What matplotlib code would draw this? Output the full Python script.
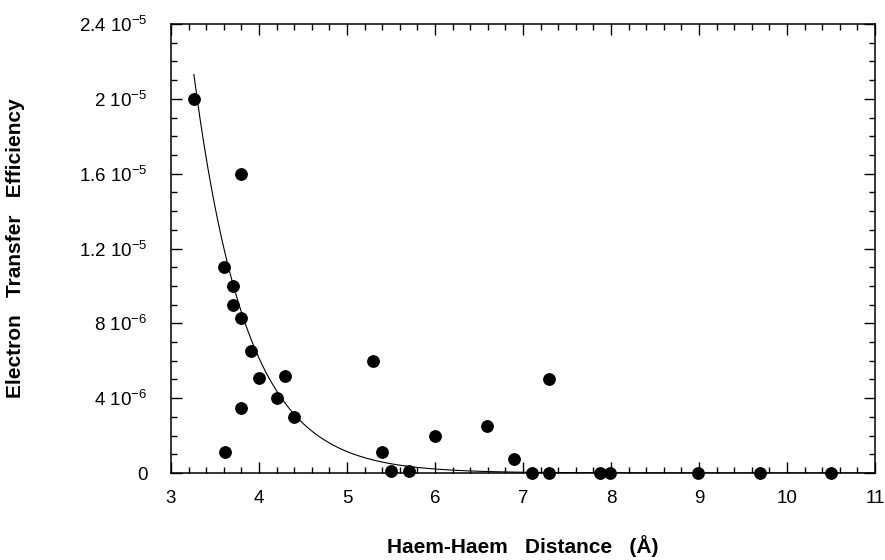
import numpy as np
import matplotlib
matplotlib.use("Agg")
import matplotlib.pyplot as plt
from matplotlib.ticker import MultipleLocator, FixedLocator
from matplotlib.transforms import blended_transform_factory

plt.rcParams['font.family'] = ['Liberation Sans', 'DejaVu Sans']
plt.rcParams['mathtext.default'] = 'regular'

# Data (haem-haem distance in Angstrom, electron transfer efficiency)
distance = [3.26, 3.80, 3.60, 3.71, 3.71, 3.80, 3.91, 4.00, 4.30, 4.20, 3.80, 4.40,
            3.61, 5.30, 5.40, 5.50, 5.70, 6.00, 6.59, 6.90, 7.30, 7.10, 7.30, 7.88,
            7.99, 8.99, 9.69, 10.50]
efficiency = [2.00e-5, 1.60e-5, 1.10e-5, 1.00e-5, 0.90e-5, 0.83e-5, 0.65e-5, 0.51e-5,
              0.52e-5, 0.40e-5, 0.35e-5, 0.30e-5, 0.11e-5, 0.60e-5, 0.11e-5, 0.01e-5,
              0.01e-5, 0.20e-5, 0.25e-5, 0.075e-5, 0.50e-5, 0.0, 0.0, 0.0, 0.0, 0.0,
              0.0, 0.0]

# Exponential fit parameters: E = A * exp(-B * (d - d0))
fit_A = 2.13e-5
fit_B = 1.68
fit_d0 = 3.26
fit_range = (3.26, 11.0)

xticks = [3, 4, 5, 6, 7, 8, 9, 10, 11]
yticks = [0, 4e-6, 8e-6, 1.2e-5, 1.6e-5, 2.0e-5, 2.4e-5]
ytick_labels = ['0', '4 10$^{-6}$', '8 10$^{-6}$', '1.2 10$^{-5}$', '1.6 10$^{-5}$',
                '2 10$^{-5}$', '2.4 10$^{-5}$']

fig = plt.figure(figsize=(8.85, 5.60), dpi=100)
ax = fig.add_axes([171/885, 87/560, 704/885, 449/560])

xf = np.linspace(fit_range[0], fit_range[1], 400)
ax.plot(xf, fit_A * np.exp(-fit_B * (xf - fit_d0)), color='black', lw=0.8, zorder=2)
ax.plot(distance, efficiency, 'o', color='black', markersize=8.2, zorder=3, clip_on=False)

ax.set_xlim(3, 11)
ax.set_ylim(0, 2.4e-5)
ax.xaxis.set_major_locator(FixedLocator(xticks))
ax.xaxis.set_minor_locator(MultipleLocator(0.2))
ax.yaxis.set_major_locator(FixedLocator(yticks))
ax.yaxis.set_minor_locator(MultipleLocator(1e-6))
ax.set_yticklabels(ytick_labels)

ax.tick_params(which='both', direction='in', top=True, right=True, width=1.0, color='black')
ax.tick_params(which='major', length=8)
ax.tick_params(which='minor', length=4)
ax.tick_params(axis='x', which='major', labelsize=13.5, pad=12)
ax.tick_params(axis='y', which='major', labelsize=13.5, pad=17)

for s in ax.spines.values():
    s.set_linewidth(1.1)
    s.set_color('black')

ax.set_xlabel('Haem-Haem   Distance   (Å)', fontsize=15, fontweight='bold')
ax.set_ylabel('Electron   Transfer   Efficiency', fontsize=15, fontweight='bold')
ax.yaxis.set_label_coords(25/885, 0.5, transform=blended_transform_factory(fig.transFigure, ax.transAxes))
ax.xaxis.set_label_coords(0.5, 25/560, transform=blended_transform_factory(ax.transAxes, fig.transFigure))

fig.savefig('out.png', dpi=100)
